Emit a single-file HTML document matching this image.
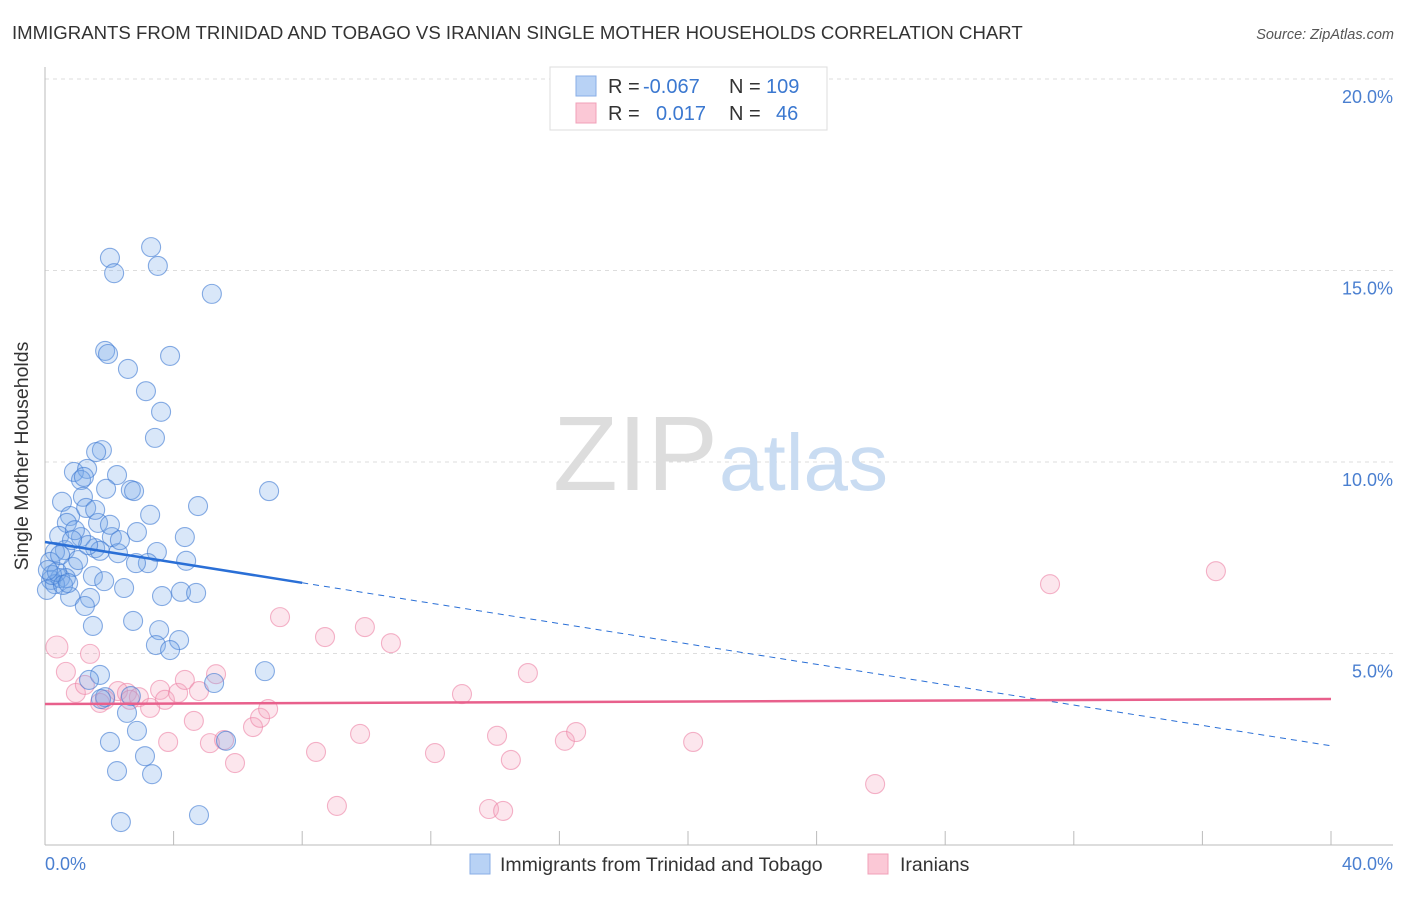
<!DOCTYPE html>
<html><head><meta charset="utf-8"><style>
body{margin:0;background:#fff;font-family:"Liberation Sans",sans-serif;}
svg text{font-family:"Liberation Sans",sans-serif;}
</style></head><body>
<svg id="chart" width="1406" height="892" xmlns="http://www.w3.org/2000/svg">
<text x="12" y="39" font-size="18.6" fill="#333">IMMIGRANTS FROM TRINIDAD AND TOBAGO VS IRANIAN SINGLE MOTHER HOUSEHOLDS CORRELATION CHART</text>
<text x="1394" y="39" font-size="14.5" fill="#555" font-style="italic" text-anchor="end">Source: ZipAtlas.com</text>
<g id="grid"></g>
<g>
<text x="553" y="490" font-size="106" fill="#ddd" font-family="Liberation Serif">ZIP</text>
<text x="719" y="490" font-size="80" fill="#c9dcf2">atlas</text>
</g>
<line x1="45" y1="67" x2="45" y2="845" stroke="#bbb"/>
<line x1="45" y1="845" x2="1393" y2="845" stroke="#bbb"/>
<g id="xticks"></g>
<g id="pts"></g>
<g id="trends"></g>
<text x="28" y="456" font-size="19.5" fill="#333" text-anchor="middle" transform="rotate(-90 28 456)">Single Mother Households</text>
<text x="45" y="870" font-size="18" fill="#4a7fd0">0.0%</text>
<text x="1393" y="870" font-size="18" fill="#4a7fd0" text-anchor="end">40.0%</text>
<g>
<rect x="550" y="67" width="277" height="63" fill="#fff" stroke="#ddd"/>
<rect x="576" y="76" width="20" height="20" fill="#b8d2f5" stroke="#88aee6"/>
<rect x="576" y="103" width="20" height="20" fill="#fbc8d6" stroke="#f0a0b8"/>
<text x="608" y="93" font-size="20" fill="#333">R = <tspan fill="#3b78d0" x="643">-0.067</tspan></text>
<text x="729" y="93" font-size="20" fill="#333">N = <tspan fill="#3b78d0" x="766">109</tspan></text>
<text x="608" y="120" font-size="20" fill="#333">R = <tspan fill="#3b78d0" x="656">0.017</tspan></text>
<text x="729" y="120" font-size="20" fill="#333">N = <tspan fill="#3b78d0" x="776">46</tspan></text>
</g>
<g>
<rect x="470" y="854" width="20" height="20" fill="#b8d2f5" stroke="#88aee6"/>
<text x="500" y="871" font-size="19.5" fill="#333">Immigrants from Trinidad and Tobago</text>
<rect x="868" y="854" width="20" height="20" fill="#fbc8d6" stroke="#f0a0b8"/>
<text x="900" y="871" font-size="19.5" fill="#333">Iranians</text>
</g>
</svg>
<script>
const yTicks=[5,10,15,20];
const yTickLabels=["5.0%","10.0%","15.0%","20.0%"];
const xTicks=[0,4,8,12,16,20,24,28,32,36,40];
const blueX=[3.30,2.02,3.51,2.15,5.19,1.87,1.96,3.89,2.58,3.14,3.61,3.42,1.77,1.59,2.24,0.90,1.31,1.12,1.21,1.90,2.67,2.77,1.18,0.53,4.76,6.97,3.27,0.78,1.28,0.68,1.65,1.12,2.86,4.35,2.08,0.44,0.93,0.62,1.56,1.71,2.27,3.48,4.39,0.31,3.20,2.83,0.87,0.16,1.49,1.84,0.19,0.47,0.65,2.46,0.31,0.06,3.64,4.23,4.70,0.78,1.40,1.24,2.74,1.49,3.55,4.17,3.45,3.89,6.84,1.71,1.37,1.87,5.26,1.74,2.67,2.55,2.86,2.02,3.11,2.24,3.33,5.63,2.36,4.79,0.22,0.37,0.56,0.09,0.72,1.03,1.34,0.84,0.47,1.56,2.02,2.33];
const blueY=[15.61,15.33,15.12,14.93,14.39,12.90,12.82,12.77,12.43,11.85,11.31,10.63,10.31,10.26,9.66,9.74,9.82,9.53,9.61,9.30,9.27,9.24,9.09,8.96,8.85,9.24,8.62,8.59,8.80,8.41,8.41,8.04,8.17,8.04,8.04,8.07,8.22,7.70,7.75,7.68,7.62,7.65,7.42,7.65,7.36,7.36,7.26,7.39,7.02,6.89,6.92,6.97,6.97,6.71,6.81,6.66,6.50,6.61,6.58,6.48,6.45,6.24,5.85,5.72,5.61,5.35,5.22,5.09,4.54,4.44,4.31,3.86,4.23,3.81,3.89,3.45,2.98,2.69,2.32,1.93,1.85,2.72,0.60,0.78,7.05,7.13,6.79,7.18,6.84,7.44,7.83,7.96,7.57,8.75,8.36,7.96];
const pinkX=[0.37,0.65,1.40,0.96,1.24,1.71,2.27,2.55,1.87,2.92,3.58,3.73,4.14,4.35,4.79,5.32,4.63,3.83,5.13,5.57,5.91,6.47,6.69,6.94,7.31,8.71,9.95,10.76,8.43,9.08,9.80,12.13,12.97,14.06,14.49,13.81,14.25,15.02,16.17,16.52,20.16,25.82,31.26,36.42,2.64,3.27];
const pinkY=[5.17,4.52,4.99,3.97,4.18,3.71,4.02,3.97,3.79,3.86,4.05,3.79,3.97,4.31,4.02,4.46,3.24,2.69,2.66,2.74,2.14,3.08,3.32,3.55,5.95,5.43,5.69,5.27,2.43,1.02,2.90,2.40,3.94,2.85,2.22,0.94,0.89,4.49,2.72,2.95,2.69,1.59,6.81,7.15,3.79,3.58];
const blueTrend=[7.91,-0.133];
const pinkTrend=[3.68,0.0033];
const blueSolidEnd=8;
const xScale=v=>45+v*32.15;
const yScale=v=>845-v*38.3;
const NS="http://www.w3.org/2000/svg";
function mk(tag,attrs,parent){const e=document.createElementNS(NS,tag);for(const k in attrs)e.setAttribute(k,attrs[k]);parent.appendChild(e);return e;}
const grid=document.getElementById('grid');
yTicks.forEach((t,i)=>{
 const l=mk('line',{x1:45,x2:1393,y1:yScale(t),y2:yScale(t),stroke:'#ddd','stroke-dasharray':'4,4'},grid);
 
 
 const tx=mk('text',{x:1393,y:yScale(t)+24,'font-size':18,fill:'#4a7fd0','text-anchor':'end'},grid);
 tx.textContent=yTickLabels[i];
 
 
});
const xt=document.getElementById('xticks');
xTicks.forEach(t=>{
 const l=mk('line',{x1:xScale(t),x2:xScale(t),y1:831,y2:845,stroke:'#bbb'},xt);
 
 
});
const pts=document.getElementById('pts');
pinkX.forEach((x,i)=>{
 const c=mk('circle',{cx:xScale(x),cy:yScale(pinkY[i]),r:i===0?11:9.5,fill:'rgba(245,165,192,0.28)',stroke:'rgba(236,130,165,0.6)','stroke-width':1.1},pts);
 
 
});
blueX.forEach((x,i)=>{
 const c=mk('circle',{cx:xScale(x),cy:yScale(blueY[i]),r:9.5,fill:'rgba(120,168,232,0.28)',stroke:'rgba(60,120,210,0.6)','stroke-width':1.1},pts);
 
 
});
const tr=document.getElementById('trends');
const bf=v=>blueTrend[0]+blueTrend[1]*v, pf=v=>pinkTrend[0]+pinkTrend[1]*v;
let a=mk('line',{x1:xScale(0),y1:yScale(bf(0)),x2:xScale(blueSolidEnd),y2:yScale(bf(blueSolidEnd)),stroke:'#2a6fd6','stroke-width':2.5},tr);


let b=mk('line',{x1:xScale(blueSolidEnd),y1:yScale(bf(blueSolidEnd)),x2:xScale(40),y2:yScale(bf(40)),stroke:'#2a6fd6','stroke-width':1,'stroke-dasharray':'6,5'},tr);


let p=mk('line',{x1:xScale(0),y1:yScale(pf(0)),x2:xScale(40),y2:yScale(pf(40)),stroke:'#e8608c','stroke-width':2.5},tr);


</script>
</body></html>
